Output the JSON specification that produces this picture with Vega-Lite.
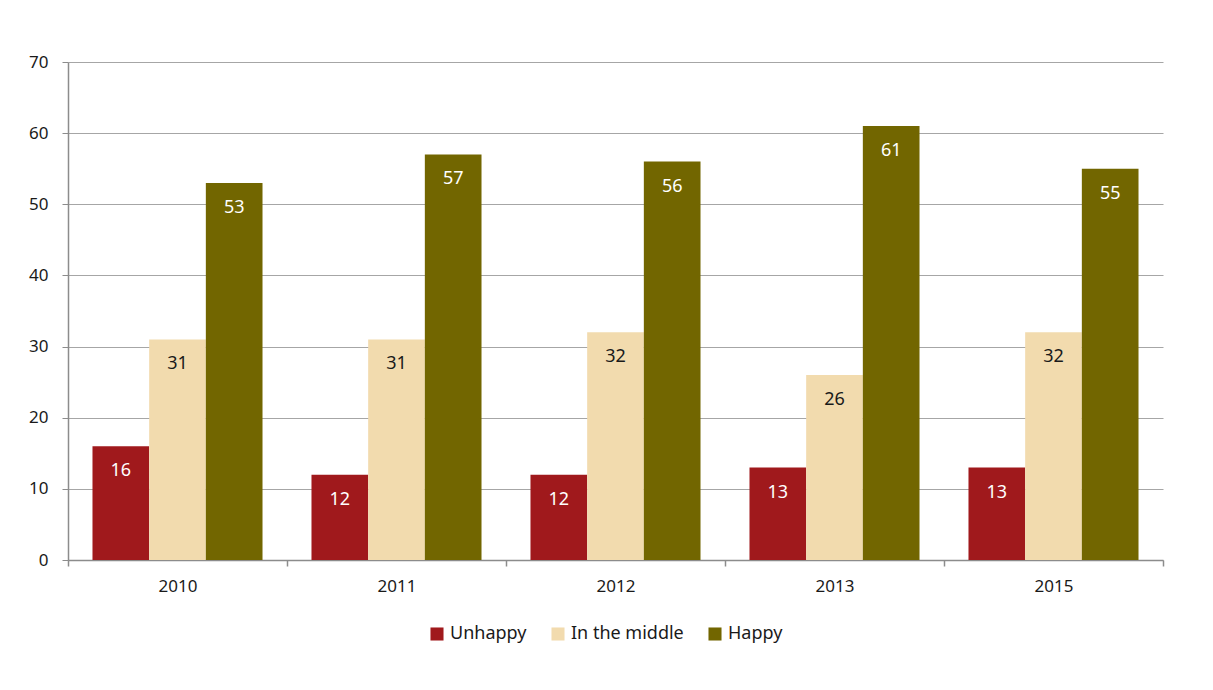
{
  "$schema": "https://vega.github.io/schema/vega-lite/v6.json",
  "width": 1095,
  "height": 498,
  "autosize": {"type": "none"},
  "padding": {"left": 68, "top": 62, "right": 50, "bottom": 130},
  "background": "white",
  "config": {
    "font": "Noto Sans",
    "view": {"stroke": null},
    "axis": {"labelFont": "Noto Sans", "labelFontSize": 17, "labelColor": "#1a1a1a", "domainColor": "#8c8c8c", "tickColor": "#8c8c8c", "gridColor": "#a6a6a6", "title": null}
  },
  "data": {"values": [
    {"year": "2010", "cat": "Unhappy", "v": 16},
    {"year": "2010", "cat": "In the middle", "v": 31},
    {"year": "2010", "cat": "Happy", "v": 53},
    {"year": "2011", "cat": "Unhappy", "v": 12},
    {"year": "2011", "cat": "In the middle", "v": 31},
    {"year": "2011", "cat": "Happy", "v": 57},
    {"year": "2012", "cat": "Unhappy", "v": 12},
    {"year": "2012", "cat": "In the middle", "v": 32},
    {"year": "2012", "cat": "Happy", "v": 56},
    {"year": "2013", "cat": "Unhappy", "v": 13},
    {"year": "2013", "cat": "In the middle", "v": 26},
    {"year": "2013", "cat": "Happy", "v": 61},
    {"year": "2015", "cat": "Unhappy", "v": 13},
    {"year": "2015", "cat": "In the middle", "v": 32},
    {"year": "2015", "cat": "Happy", "v": 55}
  ]},
  "encoding": {
    "x": {"field": "year", "type": "nominal", "scale": {"paddingInner": 0, "paddingOuter": 0},
      "axis": {"labelAngle": 0, "tickBand": "extent", "tickSize": 6, "labelPadding": 12, "domainWidth": 1.5, "tickWidth": 1.5}},
    "xOffset": {"field": "cat", "type": "nominal", "sort": ["Unhappy", "In the middle", "Happy"], "scale": {"paddingInner": 0, "paddingOuter": 0.432}},
    "y": {"field": "v", "type": "quantitative", "scale": {"domain": [0, 70]},
      "axis": {"values": [0, 10, 20, 30, 40, 50, 60, 70], "tickSize": 6, "labelPadding": 14, "domainWidth": 1.5, "grid": true, "gridWidth": 1}}
  },
  "layer": [
    {
      "mark": {"type": "bar"},
      "encoding": {
        "color": {"field": "cat", "type": "nominal",
          "scale": {"domain": ["Unhappy", "In the middle", "Happy"], "range": ["#A0191C", "#F2DBAE", "#726600"]},
          "legend": {"title": null, "orient": "none", "direction": "horizontal", "legendX": 360, "legendY": 563,
            "symbolType": "square", "symbolSize": 170, "symbolStrokeWidth": 0, "labelFontSize": 18, "labelFont": "Noto Sans", "labelColor": "#1a1a1a", "columnPadding": 22, "labelOffset": 4}}
      }
    },
    {
      "mark": {"type": "text", "baseline": "middle", "dy": 25, "fontSize": 18},
      "encoding": {
        "text": {"field": "v", "type": "quantitative"},
        "color": {"condition": {"test": "datum.cat === 'In the middle'", "value": "#1a1a1a"}, "value": "white"}
      }
    }
  ]
}
